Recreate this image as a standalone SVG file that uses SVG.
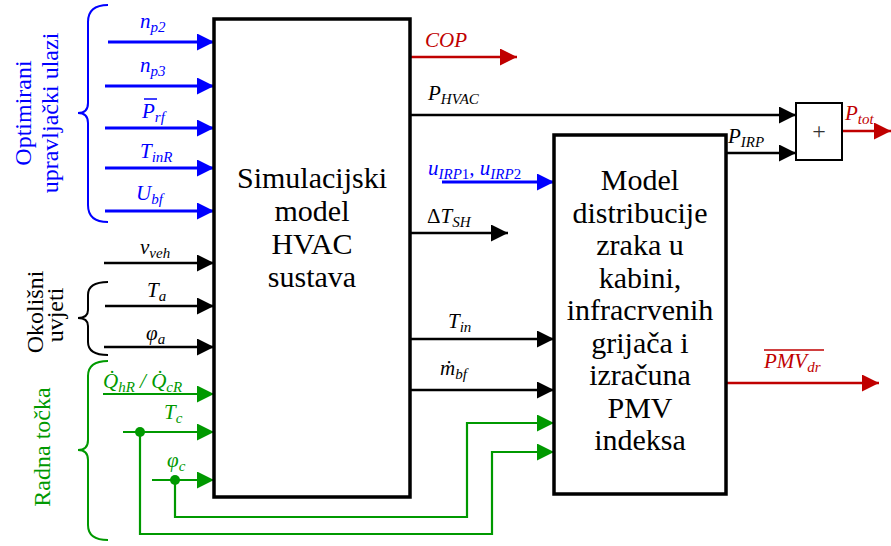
<svg xmlns="http://www.w3.org/2000/svg" width="891" height="546" viewBox="0 0 891 546" font-family="'Liberation Serif', 'Times New Roman', 'DejaVu Serif', serif">
<style>
text, tspan{font-family:'Liberation Serif', 'Times New Roman', 'DejaVu Serif', serif;}
.v{font-style:italic;font-size:21px;}
.s{font-size:15px;}
.box{fill:#fff;stroke:#000;stroke-width:3.5;}
.bt{font-size:30px;text-anchor:middle;fill:#000;}
.lb{stroke:#0000ff;stroke-width:3;fill:none;}
.lk{stroke:#000;stroke-width:2.5;fill:none;}
.lg{stroke:#009900;stroke-width:2.2;fill:none;}
.lr{stroke:#c00000;stroke-width:2.5;fill:none;}
.rot{font-size:24px;text-anchor:middle;}
</style>
<defs>
<marker id="ab" markerUnits="userSpaceOnUse" markerWidth="17" markerHeight="17" refX="17" refY="8.5" orient="auto"><path d="M0,0 L17,8.5 L0,17 z" fill="#0000ff"/></marker>
<marker id="ak" markerUnits="userSpaceOnUse" markerWidth="17" markerHeight="17" refX="17" refY="8.5" orient="auto"><path d="M0,0 L17,8.5 L0,17 z" fill="#000"/></marker>
<marker id="ag" markerUnits="userSpaceOnUse" markerWidth="17" markerHeight="17" refX="17" refY="8.5" orient="auto"><path d="M0,0 L17,8.5 L0,17 z" fill="#009900"/></marker>
<marker id="ar" markerUnits="userSpaceOnUse" markerWidth="17" markerHeight="17" refX="17" refY="8.5" orient="auto"><path d="M0,0 L17,8.5 L0,17 z" fill="#c00000"/></marker>
</defs>
<rect width="891" height="546" fill="#fff"/>

<g id="connectors">
<path class="lb" d="M108,42 H214" marker-end="url(#ab)"/>
<path class="lb" d="M105,86 H214" marker-end="url(#ab)"/>
<path class="lb" d="M105,128 H214" marker-end="url(#ab)"/>
<path class="lb" d="M105,168 H214" marker-end="url(#ab)"/>
<path class="lb" d="M105,211 H214" marker-end="url(#ab)"/>
<path class="lk" d="M104,263 H214" marker-end="url(#ak)"/>
<path class="lk" d="M105,306 H214" marker-end="url(#ak)"/>
<path class="lk" d="M104,347 H214" marker-end="url(#ak)"/>
<path class="lg" d="M103,394 H214" marker-end="url(#ag)"/>
<path class="lg" d="M123,432 H214" marker-end="url(#ag)"/>
<path class="lg" d="M152,480 H214" marker-end="url(#ag)"/>
<path class="lg" d="M175,480 V517 H467 V423 H554" marker-end="url(#ag)"/>
<path class="lg" d="M140,432 V534 H492 V452 H554" marker-end="url(#ag)"/>
<circle cx="140" cy="432" r="5" fill="#009900"/>
<circle cx="175" cy="480" r="5" fill="#009900"/>
<path class="lr" d="M410,57 H517" marker-end="url(#ar)"/>
<path class="lk" d="M410,115 H796" marker-end="url(#ak)"/>
<path class="lk" d="M726,153 H796" marker-end="url(#ak)"/>
<path class="lr" d="M842,131 H891" marker-end="url(#ar)"/>
<path class="lb" d="M442,182 H554" marker-end="url(#ab)"/>
<path class="lk" d="M410,233 H508" marker-end="url(#ak)"/>
<path class="lk" d="M410,339 H554" marker-end="url(#ak)"/>
<path class="lk" d="M410,390 H554" marker-end="url(#ak)"/>
<path class="lr" d="M726,383 H879" marker-end="url(#ar)"/>
</g>

<g id="brace-optimirani">
<path d="M108,5 Q88,5 88,22 V103 Q88,113 78,113 Q88,113 88,123 V205 Q88,222 108,222" fill="none" stroke="#0000ff" stroke-width="2"/>
<text class="rot" fill="#0000ff" transform="translate(31,113) rotate(-90)">Optimirani</text>
<text class="rot" fill="#0000ff" transform="translate(58,113) rotate(-90)">upravljački ulazi</text>
</g>
<g id="brace-okolisni">
<path d="M108,282 Q88,282 88,295 V310 Q88,318 78,318 Q88,318 88,326 V342 Q88,355 108,355" fill="none" stroke="#000" stroke-width="2"/>
<text class="rot" fill="#000" transform="translate(43,312) rotate(-90)">Okolišni</text>
<text class="rot" fill="#000" transform="translate(63,315) rotate(-90)">uvjeti</text>
</g>
<g id="brace-radna">
<path d="M108,361 Q88,361 88,376 V440 Q88,450 78,450 Q88,450 88,460 V525 Q88,540 108,540" fill="none" stroke="#009900" stroke-width="2"/>
<text class="rot" fill="#009900" transform="translate(50,447) rotate(-90)">Radna točka</text>
</g>

<g id="hvac">
<rect class="box" x="214" y="19" width="196" height="478"/>
<text class="bt" x="312" y="188">Simulacijski</text>
<text class="bt" x="312" y="221">model</text>
<text class="bt" x="312" y="254">HVAC</text>
<text class="bt" x="312" y="287">sustava</text>
</g>

<g id="distribucija">
<rect class="box" x="554" y="135" width="172" height="359"/>
<text class="bt" x="640" y="190">Model</text>
<text class="bt" x="640" y="223">distribucije</text>
<text class="bt" x="640" y="255">zraka u</text>
<text class="bt" x="640" y="288">kabini,</text>
<text class="bt" x="640" y="320">infracrvenih</text>
<text class="bt" x="640" y="353">grijača i</text>
<text class="bt" x="640" y="385">izračuna</text>
<text class="bt" x="640" y="418">PMV</text>
<text class="bt" x="640" y="450">indeksa</text>
</g>

<g id="sum">
<rect x="796" y="103" width="46" height="57" fill="#fff" stroke="#000" stroke-width="2"/>
<text x="819" y="139" font-size="24" text-anchor="middle" fill="#333">+</text>
</g>

<g id="labels">
<text class="v" fill="#0000ff" x="140" y="28">n<tspan class="s" dy="4">p2</tspan></text>
<text class="v" fill="#0000ff" x="140" y="72">n<tspan class="s" dy="4">p3</tspan></text>
<text class="v" fill="#0000ff" x="142" y="118">P<tspan class="s" dy="4">rf</tspan></text>
<line x1="144" y1="99" x2="157" y2="99" stroke="#0000ff" stroke-width="1.5"/>
<text class="v" fill="#0000ff" x="140" y="158">T<tspan class="s" dy="4">inR</tspan></text>
<text class="v" fill="#0000ff" x="136" y="200">U<tspan class="s" dy="4">bf</tspan></text>
<text class="v" fill="#000" x="140" y="254">v<tspan class="s" dy="4">veh</tspan></text>
<text class="v" fill="#000" x="147" y="297">T<tspan class="s" dy="4">a</tspan></text>
<text class="v" fill="#000" x="146" y="340">φ<tspan class="s" dy="4">a</tspan></text>
<text class="v" fill="#009900" x="103" y="388">Q̇<tspan class="s" dy="4">hR</tspan><tspan dy="-4"> / Q̇</tspan><tspan class="s" dy="4">cR</tspan></text>
<text class="v" fill="#009900" x="164" y="419">T<tspan class="s" dy="4">c</tspan></text>
<text class="v" fill="#009900" x="167" y="467">φ<tspan class="s" dy="4">c</tspan></text>
<text class="v" fill="#c00000" x="425" y="47" font-size="24">COP</text>
<text class="v" fill="#000" x="428" y="100">P<tspan class="s" dy="4">HVAC</tspan></text>
<text class="v" fill="#000" x="728" y="143">P<tspan class="s" dy="4">IRP</tspan></text>
<text class="v" fill="#c00000" x="845" y="120">P<tspan class="s" dy="4">tot</tspan></text>
<text class="v" fill="#0000ff" x="428" y="175">u<tspan class="s" dy="4">IRP</tspan><tspan class="s" font-style="normal">1</tspan><tspan dy="-4">, u</tspan><tspan class="s" dy="4">IRP</tspan><tspan class="s" font-style="normal">2</tspan></text>
<text class="v" fill="#000" x="427" y="223"><tspan font-style="normal">Δ</tspan>T<tspan class="s" dy="4">SH</tspan></text>
<text class="v" fill="#000" x="448" y="328">T<tspan class="s" dy="4">in</tspan></text>
<text class="v" fill="#000" x="440" y="375">ṁ<tspan class="s" dy="4">bf</tspan></text>
<text class="v" fill="#c00000" x="764" y="368">PMV<tspan class="s" dy="4">dr</tspan></text>
<line x1="764" y1="350" x2="824" y2="350" stroke="#c00000" stroke-width="1.5"/>
</g>
</svg>
